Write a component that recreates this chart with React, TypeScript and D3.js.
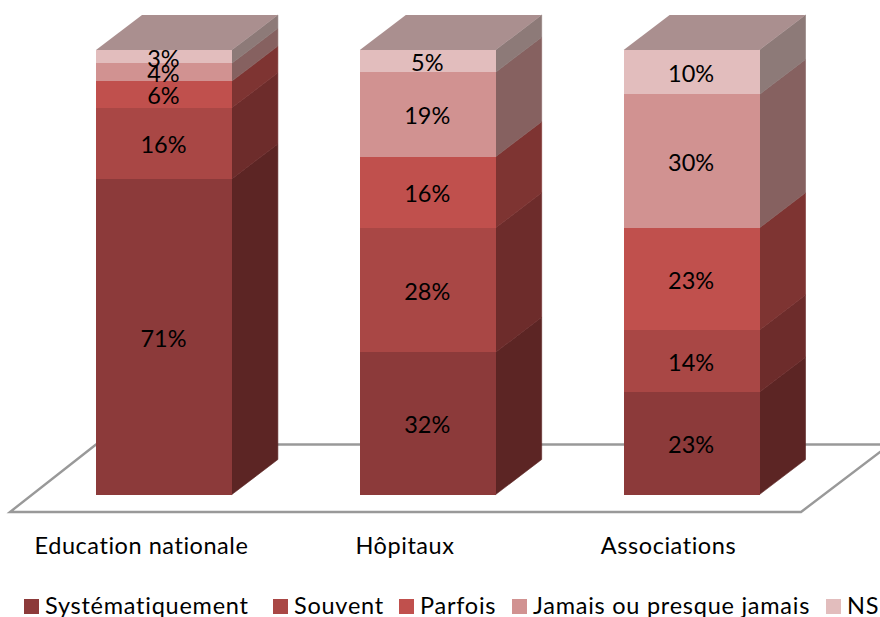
import React from "react";
import * as d3 from "d3";

const categories = ["Education nationale", "Hôpitaux", "Associations"];
const seriesNames = ["Systématiquement", "Souvent", "Parfois", "Jamais ou presque jamais", "NSP"];
const systematiquement = [71, 32, 23];
const souvent = [16, 28, 14];
const parfois = [6, 16, 23];
const jamais = [4, 19, 30];
const nsp = [3, 5, 10];
const frontColors = ["#8C3A3A", "#A94745", "#C0504D", "#D19291", "#E2BDBD"];
const sideColors = ["#5C2524", "#6D2C2B", "#7E3432", "#866160", "#8D7A78"];
const topColor = "#AA8F8F";
const legendX = [24, 273, 399, 512, 826];
const FONT = "Lato, Carlito, sans-serif";

export default function App() {
  const x = d3.scaleBand<string>().domain(categories).range([96, 759.5]).paddingInner(0.485);
  const y = d3.scaleLinear().domain([0, 100]).range([494.5, 50]);
  const dx = 46, dy = -35;
  const rows = categories.map((c, i) => ({
    cat: c,
    s0: systematiquement[i], s1: souvent[i], s2: parfois[i], s3: jamais[i], s4: nsp[i],
  }));
  const stack = d3.stack<any>().keys(["s0", "s1", "s2", "s3", "s4"])(rows);
  const labelStyle: React.CSSProperties = { fontVariantLigatures: "none", letterSpacing: 0.55 };
  const legendStyle: React.CSSProperties = { fontVariantLigatures: "none", letterSpacing: 0.75 };
  return (
    <svg width={880} height={617} viewBox="0 0 880 617"
      style={{ position: "fixed", left: 0, top: 0, background: "#fff", fontFamily: FONT }}>
      <path d="M10,512 L801,512 L890,444.5 L96,444.5 Z" fill="#fff" stroke="#999" strokeWidth={2.4} />
      {categories.map((c) => {
        const x0 = x(c)!, x1 = x0 + x.bandwidth();
        return (
          <g key={c}>
            {stack.map((layer, si) => {
              const d = layer.find((p) => p.data.cat === c)!;
              const yb = y(d[0]), yt = y(d[1]);
              return (
                <path key={si} d={`M${x1},${yb} L${x1 + dx},${yb + dy} L${x1 + dx},${yt + dy} L${x1},${yt} Z`}
                  fill={sideColors[si]} stroke={sideColors[si]} strokeWidth={0.6} />
              );
            })}
            {stack.map((layer, si) => {
              const d = layer.find((p) => p.data.cat === c)!;
              const yb = y(d[0]), yt = y(d[1]);
              return (
                <rect key={si} x={x0} y={yt} width={x1 - x0} height={yb - yt} fill={frontColors[si]} shapeRendering="crispEdges" />
              );
            })}
            <path d={`M${x0},${y(100)} L${x0 + dx},${y(100) + dy} L${x1 + dx},${y(100) + dy} L${x1},${y(100)} Z`} fill={topColor} />
            {stack.map((layer, si) => {
              const d = layer.find((p) => p.data.cat === c)!;
              return (
                <text key={si} x={(x0 + x1) / 2 - 0.5} y={(y(d[0]) + y(d[1])) / 2 + 10} textAnchor="middle" fontSize={23.5} fill="#000">
                  {d[1] - d[0]}%
                </text>
              );
            })}
          </g>
        );
      })}
      {categories.map((c, i) => (
        <text key={c} x={[141.5, 405, 668.5][i]} y={554} textAnchor="middle" fontSize={23.5} fill="#000" style={labelStyle}>{c}</text>
      ))}
      {seriesNames.map((s, i) => (
        <g key={s}>
          <rect x={legendX[i]} y={599} width={15} height={15} fill={frontColors[i]} />
          <text x={legendX[i] + 21} y={613.5} fontSize={23.5} fill="#000" style={legendStyle}>{s}</text>
        </g>
      ))}
    </svg>
  );
}
